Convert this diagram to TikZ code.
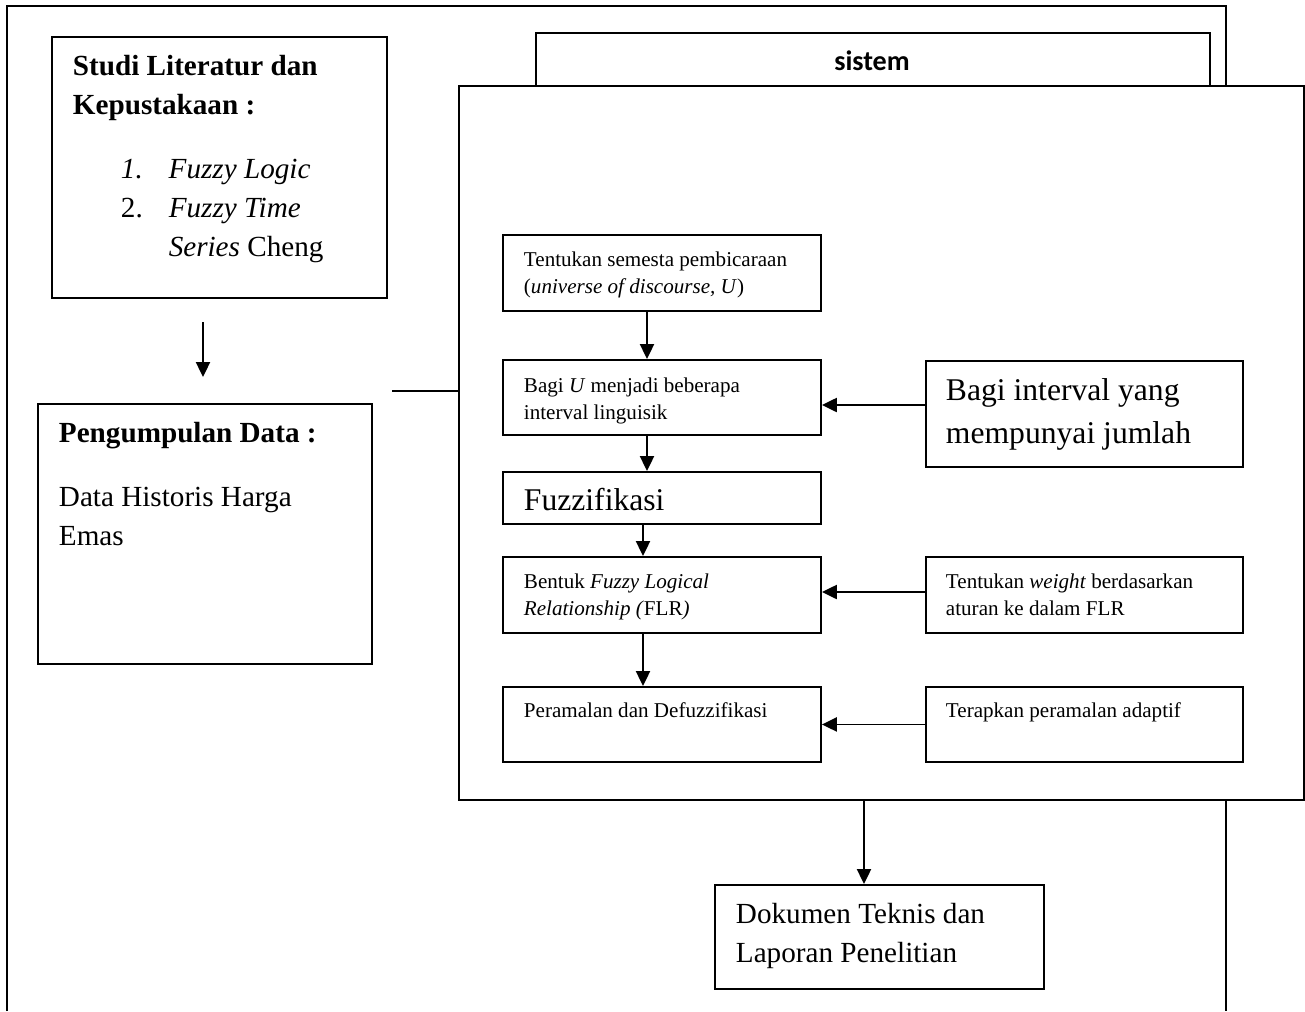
\documentclass[tikz,border=0pt]{standalone}
\usepackage{fontspec}
\setmainfont{Liberation Serif}
\newfontfamily\sistemfont{Carlito}
\usetikzlibrary{arrows.meta,calc,positioning}

\newcommand{\besar}{\fontsize{16.6}{22.4}\selectfont}
\newcommand{\kecil}{\fontsize{12}{15.6}\selectfont}
\newcommand{\jumbo}{\fontsize{18}{24}\selectfont}

\tikzset{
  kotak/.style 2 args={draw, fill=white, anchor=north west, inner sep=0pt,
    minimum width=#1*0.02cm, minimum height=#2*0.02cm},
  teks/.style={anchor=north west, inner sep=0pt, align=left},
  panah/.style={-{Triangle[length=8.5pt,width=8pt]}},
}

\begin{document}
\begin{tikzpicture}[x=0.02cm, y=-0.02cm, line width=1.1pt]
        \useasboundingbox (0,0) rectangle (1305,1011);
        % bingkai luar
        \draw (7,1011) -- (7,6) -- (1226,6) -- (1226,1011);

        \node[kotak={335}{261}] (studi) at (51,36) {};
        \node[teks, font=\besar\bfseries] (studijudul) at (72,54)
        {Studi Literatur dan\\Kepustakaan :};
        \node[teks, font=\besar] (studidaftar) at (120,158)
        {\makebox[27.2pt][l]{\itshape 1.}\textit{Fuzzy Logic}\\
         \makebox[27.2pt][l]{2.}\textit{Fuzzy Time}\\
         \hspace*{27.2pt}\textit{Series} Cheng};

        \node[kotak={334}{260}] (kumpul) at (37,403) {};
        \node[teks, font=\besar] (kumpulteks) at (58,421)
        {\textbf{Pengumpulan Data :}\\[14pt]Data Historis Harga\\Emas};

        % kotak sistem
        \node[kotak={674}{60}] (tab) at (535,32) {};
        \node[anchor=base, font=\fontsize{16}{19}\sistemfont\bfseries] (tabteks) at (872,70) {sistem};
        \node[kotak={845}{714}] (sistem) at (458,85) {};

        \node[kotak={318}{76}] (tentukan) at (502,234) {};
        \node[teks, font=\kecil] (tentukanteks) at (523,250.5)
        {Tentukan semesta pembicaraan\\(\textit{universe of discourse, U})};

        \node[kotak={318}{75}] (bagiu) at (502,359) {};
        \node[teks, font=\kecil] (bagiuteks) at (523,376.5)
        {Bagi \textit{U} menjadi beberapa\\interval linguisik};

        \node[kotak={317}{106}] (interval) at (925,360) {};
        \node[teks, font=\jumbo] (intervalteks) at (945,378)
        {Bagi interval yang\\mempunyai jumlah};

        \node[kotak={318}{52}] (fuzz) at (502,471) {};
        \node[teks, font=\jumbo] (fuzzteks) at (523,487) {Fuzzifikasi};

        \node[kotak={318}{76}] (bentuk) at (502,556) {};
        \node[teks, font=\kecil] (bentukteks) at (523,572.5)
        {Bentuk \textit{Fuzzy Logical}\\\textit{Relationship (}FLR\textit{)}};

        \node[kotak={317}{76}] (weight) at (925,556) {};
        \node[teks, font=\kecil] (weightteks) at (945,572.5)
        {Tentukan \textit{weight} berdasarkan\\aturan ke dalam FLR};

        \node[kotak={318}{75}] (ramal) at (502,686) {};
        \node[teks, font=\kecil] (ramalteks) at (523,701.5) {Peramalan dan Defuzzifikasi};

        \node[kotak={317}{75}] (terapkan) at (925,686) {};
        \node[teks, font=\kecil] (terapkanteks) at (945,701.5) {Terapkan peramalan adaptif};

        \node[kotak={329}{104}] (dokumen) at (714,884) {};
        \node[teks, font=\besar] (dokumenteks) at (735,902)
        {Dokumen Teknis dan\\Laporan Penelitian};

        % penghubung
        \coordinate (panahatas) at (203,322);
        \coordinate (panahbawah) at (203,377);
        \draw[panah] (panahatas) -- (panahbawah);
        \coordinate (garis) at (392,391);
        \draw (garis) -- (garis -| sistem.west);

        \draw[panah] (tentukan.south -| 647,0) -- (bagiu.north -| 647,0);
        \draw[panah] (bagiu.south -| 647,0) -- (fuzz.north -| 647,0);
        \draw[panah] (fuzz.south -| 643,0) -- (bentuk.north -| 643,0);
        \draw[panah] (bentuk.south -| 643,0) -- (ramal.north -| 643,0);

        \draw[panah] (interval.west |- 0,405) -- (bagiu.east |- 0,405);
        \draw[panah] (weight.west |- 0,592) -- (bentuk.east |- 0,592);
        \draw[panah] (terapkan.west) -- (ramal.east);

        \draw[panah] (sistem.south -| 864,0) -- (dokumen.north -| 864,0);
    \end{tikzpicture}
\end{document}
